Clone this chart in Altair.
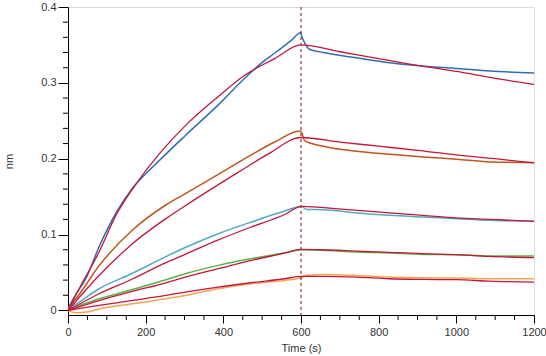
import altair as alt
import pandas as pd

# ---- data ----
blue_t = [0, 10, 25, 46, 80, 123, 166, 226, 303, 387, 455, 498, 532, 575, 599, 603, 610, 623, 657, 743, 829, 915, 1001, 1087, 1200]
blue_v = [0.003, 0.012, 0.025, 0.042, 0.084, 0.128, 0.161, 0.193, 0.231, 0.271, 0.306, 0.326, 0.339, 0.356, 0.366, 0.360, 0.352, 0.344, 0.340, 0.333, 0.3265, 0.322, 0.319, 0.3155, 0.313]
blue_fit_t = [0, 29, 80, 123, 166, 209, 303, 387, 455, 532, 600, 700, 800, 900, 1000, 1100, 1200]
blue_fit_v = [0.0, 0.029, 0.077, 0.125, 0.160, 0.190, 0.244, 0.282, 0.310, 0.332, 0.350, 0.341, 0.332, 0.323, 0.315, 0.306, 0.298]

brown_t = [0, 20, 80, 166, 252, 299, 412, 472, 532, 597, 601, 610, 657, 743, 829, 915, 1001, 1087, 1200]
brown_v = [0.003, 0.015, 0.059, 0.106, 0.139, 0.153, 0.187, 0.205, 0.222, 0.2367, 0.235, 0.2235, 0.2165, 0.210, 0.206, 0.2024, 0.1993, 0.1958, 0.195]
brown_fit_t = [0, 80, 166, 252, 299, 438, 515, 600, 700, 800, 900, 1000, 1100, 1200]
brown_fit_v = [0.0, 0.046, 0.088, 0.121, 0.137, 0.182, 0.206, 0.228, 0.222, 0.2165, 0.211, 0.205, 0.200, 0.1945]

cyan_t = [0, 20, 80, 166, 252, 302, 387, 472, 558, 601, 615, 657, 743, 828, 914, 1000, 1086, 1200]
cyan_v = [0.002, 0.008, 0.0286, 0.049, 0.071, 0.0830, 0.1012, 0.1166, 0.131, 0.137, 0.133, 0.1329, 0.1285, 0.1254, 0.1232, 0.121, 0.1188, 0.1175]
cyan_fit_t = [0, 80, 166, 252, 302, 387, 472, 558, 601, 657, 743, 828, 914, 1000, 1086, 1200]
cyan_fit_v = [0.0, 0.022, 0.0415, 0.0630, 0.0740, 0.0930, 0.1100, 0.1265, 0.1373, 0.1356, 0.132, 0.1285, 0.1254, 0.122, 0.1201, 0.1175]

green_t = [0, 80, 166, 252, 302, 387, 472, 558, 601, 657, 743, 828, 914, 1000, 1086, 1200]
green_v = [0.001, 0.0154, 0.0275, 0.0405, 0.0484, 0.0594, 0.0682, 0.0761, 0.0801, 0.0792, 0.077, 0.0757, 0.0739, 0.0735, 0.0717, 0.0717]
green_fit_t = [0, 80, 166, 252, 302, 387, 472, 558, 601, 657, 743, 828, 914, 1000, 1086, 1200]
green_fit_v = [0.0, 0.013, 0.0250, 0.0365, 0.044, 0.055, 0.066, 0.0755, 0.0805, 0.080, 0.0783, 0.0766, 0.0748, 0.0735, 0.0713, 0.0696]

orange_t = [0, 20, 50, 80, 166, 252, 302, 387, 472, 558, 601, 615, 657, 743, 828, 914, 1000, 1086, 1200]
orange_v = [0.0, -0.003, -0.002, 0.002, 0.0088, 0.0154, 0.0198, 0.0286, 0.0352, 0.0396, 0.0431, 0.0465, 0.0475, 0.0462, 0.044, 0.0431, 0.0427, 0.0418, 0.0418]
orange_fit_t = [0, 80, 166, 252, 302, 387, 472, 558, 601, 657, 743, 828, 914, 1000, 1086, 1200]
orange_fit_v = [0.0, 0.0066, 0.0132, 0.0198, 0.0242, 0.0308, 0.0365, 0.0418, 0.0449, 0.0449, 0.044, 0.0418, 0.0409, 0.0405, 0.0387, 0.0374]

series_names = ["blue", "brown", "cyan", "green", "orange"]
series_colors = ["#2f6eb0", "#c0561e", "#52a9c2", "#55b443", "#f5a552"]
fit_color = "#c4163a"
dash_color = "#a52a2a"
assoc_end = 600

x_major = [0, 200, 400, 600, 800, 1000, 1200]
y_major = [0, 0.1, 0.2, 0.3, 0.4]
x_minor = [50, 100, 150, 250, 300, 350, 450, 500, 550, 650, 700, 750, 850, 900, 950, 1050, 1100, 1150]
y_minor = [0.02, 0.04, 0.06, 0.08, 0.12, 0.14, 0.16, 0.18, 0.22, 0.24, 0.26, 0.28, 0.32, 0.34, 0.36, 0.38]

W, H = 466, 308

traces = {
    "blue": (blue_t, blue_v, blue_fit_t, blue_fit_v),
    "brown": (brown_t, brown_v, brown_fit_t, brown_fit_v),
    "cyan": (cyan_t, cyan_v, cyan_fit_t, cyan_fit_v),
    "green": (green_t, green_v, green_fit_t, green_fit_v),
    "orange": (orange_t, orange_v, orange_fit_t, orange_fit_v),
}

rows_tr, rows_fit = [], []
for name, (tt, vv, ft, fv) in traces.items():
    for i, (a, b) in enumerate(zip(tt, vv)):
        rows_tr.append({"series": name, "t": a, "v": b, "i": i})
    for i, (a, b) in enumerate(zip(ft, fv)):
        rows_fit.append({"series": name, "t": a, "v": b, "i": i})
df_tr = pd.DataFrame(rows_tr)
df_fit = pd.DataFrame(rows_fit)

xscale = alt.Scale(domain=[0, 1200], nice=False, zero=False)
yscale = alt.Scale(domain=[-0.006, 0.4], nice=False, zero=False)

FONT = "Liberation Sans"

x_axis = alt.Axis(
    values=x_major, orient="bottom", title="Time (s)", grid=False, tickSize=8,
    format="d", labelFontSize=11, titleFontSize=11, labelFont=FONT, titleFont=FONT,
    labelColor="#333333", titleColor="#333333", domainColor="black", tickColor="black",
    labelPadding=3, titlePadding=5, titleFontWeight="normal", labelFlush=False,
)
y_axis = alt.Axis(
    values=y_major, orient="left", title="nm", grid=False, tickSize=10,
    labelExpr="datum.value == 0 ? '0' : format(datum.value, '.1f')",
    labelFontSize=11, titleFontSize=11, labelFont=FONT, titleFont=FONT,
    labelColor="#333333", titleColor="#333333", domainColor="black", tickColor="black",
    labelPadding=2, titlePadding=26, titleFontWeight="normal",
)

color_scale = alt.Scale(domain=series_names, range=series_colors)

trace_layer = alt.Chart(df_tr).mark_line(strokeWidth=1.5, clip=True, interpolate="monotone").encode(
    x=alt.X("t:Q", scale=xscale, axis=x_axis),
    y=alt.Y("v:Q", scale=yscale, axis=y_axis),
    color=alt.Color("series:N", scale=color_scale, legend=None),
    detail="series:N",
    order="i:Q",
)

fit_layer = alt.Chart(df_fit).mark_line(strokeWidth=1.3, color=fit_color, clip=True, interpolate="monotone").encode(
    x=alt.X("t:Q", scale=xscale),
    y=alt.Y("v:Q", scale=yscale),
    detail="series:N",
    order="i:Q",
)

dash_layer = alt.Chart(pd.DataFrame({"t": [assoc_end]})).mark_rule(
    strokeDash=[3, 3], color=dash_color, strokeWidth=1.2
).encode(x=alt.X("t:Q", scale=xscale))

# minor ticks (outside the plot, along the axes)
x_minor_layer = alt.Chart(pd.DataFrame({"t": x_minor})).mark_rule(
    color="black", strokeWidth=1, clip=False
).encode(x=alt.X("t:Q", scale=xscale), y=alt.value(H), y2=alt.value(H + 5))

y_minor_layer = alt.Chart(pd.DataFrame({"v": y_minor})).mark_rule(
    color="black", strokeWidth=1, clip=False
).encode(y=alt.Y("v:Q", scale=yscale), x=alt.value(-5), x2=alt.value(0))

chart = alt.layer(trace_layer, fit_layer, dash_layer, x_minor_layer, y_minor_layer).properties(
    width=W, height=H,
    autosize=alt.AutoSizeParams(type="none"),
    padding={"left": 68, "top": 7, "right": 12, "bottom": 41},
).configure_view(stroke=None).configure(background="white")

chart.save("out.html", embed_options={"renderer": "svg", "actions": False})
